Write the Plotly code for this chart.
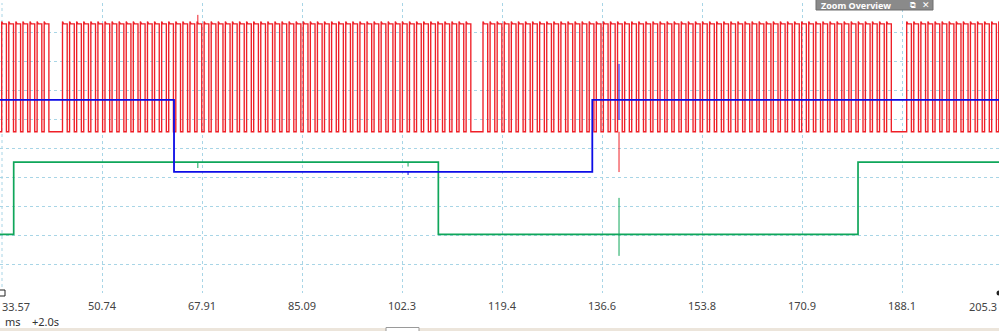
import plotly.graph_objects as go

# ---------------- data (time in ms, levels in screen divisions 0..10) ----------------
tick_values = [33.57, 50.743, 67.916, 85.089, 102.262, 119.435, 136.608, 153.781, 170.954, 188.127, 205.3]
tick_labels = ["33.57", "50.74", "67.91", "85.09", "102.3", "119.4", "136.6", "153.8", "170.9", "188.1", "205.3"]

x_view = [33.227, 204.78]

# red channel: bursts of pulses
red_burst_start_ms = [33.52, 43.96, 116.17, 188.93]
red_burst_pulses = [7, 58, 58, 14]
red_period_ms = 1.216
red_high_ms = 0.807
red_bump_ms = 0.2
red_levels = {"low": 5.56, "high": 9.28, "bump": 9.36}

# blue channel: edges and levels
blue_t = [33.227, 63.11, 134.94, 204.78]
blue_v = [6.66, 4.18, 6.66, 6.66]

# green channel
green_t = [33.227, 35.58, 108.50, 180.57, 204.78]
green_v = [2.02, 4.51, 2.02, 4.51, 4.51]

# spikes / glitches: (time, bottom, top)
red_spikes = [(139.53, 4.17, 5.56), (67.2, 9.28, 9.59)]
blue_spikes = [(139.53, 5.97, 7.90), (103.3, 4.07, 4.18)]
green_spikes = [(139.53, 1.28, 3.28), (67.2, 4.31, 4.51), (103.3, 4.36, 4.51)]

RED = "#ef1f27"
BLUE = "#0c0ce6"
GREEN = "#0fa65a"
GRID = "#a8d5e6"

# ---------------- build red step path ----------------
red_x = [x_view[0]]
red_y = [red_levels["low"]]
for s, n in zip(red_burst_start_ms, red_burst_pulses):
    for k in range(n):
        r = s + k * red_period_ms
        f = r + red_high_ms
        red_x += [r, r, r + red_bump_ms, f, f]
        red_y += [red_levels["low"], red_levels["bump"], red_levels["high"], red_levels["high"], red_levels["low"]]
red_x.append(x_view[1])
red_y.append(red_levels["low"])


def spike_xy(spikes):
    xs, ys = [], []
    for t, b, tp in spikes:
        xs += [t, t, None]
        ys += [b, tp, None]
    return xs, ys


fig = go.Figure()
fig.add_trace(go.Scatter(x=red_x, y=red_y, mode="lines", line=dict(color=RED, width=1.35), hoverinfo="skip"))
sx, sy = spike_xy(red_spikes)
fig.add_trace(go.Scatter(x=sx, y=sy, mode="lines", line=dict(color=RED, width=1), hoverinfo="skip"))

fig.add_trace(go.Scatter(x=green_t, y=green_v, mode="lines", line=dict(color=GREEN, width=1.7, shape="hv"), hoverinfo="skip"))
sx, sy = spike_xy(green_spikes)
fig.add_trace(go.Scatter(x=sx, y=sy, mode="lines", line=dict(color=GREEN, width=1), hoverinfo="skip"))

fig.add_trace(go.Scatter(x=blue_t, y=blue_v, mode="lines", line=dict(color=BLUE, width=1.8, shape="hv"), hoverinfo="skip"))
sx, sy = spike_xy(blue_spikes)
fig.add_trace(go.Scatter(x=sx, y=sy, mode="lines", line=dict(color=BLUE, width=1), hoverinfo="skip"))


def py(p):
    # pixel row -> paper y (plot area spans rows 3..293)
    return (293 - p) / 290.0


def px(p):
    return p / 999.0


shapes = [
    # bottom beige band
    dict(type="rect", xref="paper", yref="paper", x0=0, x1=1, y0=py(336), y1=py(328),
         fillcolor="#ece5db", line=dict(width=0), layer="above"),
    dict(type="rect", xref="paper", yref="paper", x0=px(386), x1=px(419), y0=py(336), y1=py(327.5),
         fillcolor="#ffffff", line=dict(color="#9a9a9a", width=1), layer="above"),
    # marker at the bottom-left
    dict(type="rect", xref="paper", yref="paper", x0=px(-1), x1=px(5), y0=py(296), y1=py(290),
         fillcolor="#ffffff", line=dict(color="#222222", width=1), layer="above"),
    # marker at the bottom-right
    dict(type="circle", xref="paper", yref="paper", x0=px(996.5), x1=px(1001.5), y0=py(295.5), y1=py(290.5),
         fillcolor="#222222", line=dict(color="#222222", width=0), layer="above"),
    # zoom overview title bar
    dict(type="rect", xref="paper", yref="paper", x0=px(816), x1=px(933), y0=py(10), y1=py(-4),
         fillcolor="#8a8a8a", line=dict(color="#6e6e6e", width=1), layer="above"),
]

annotations = [
    dict(text="Zoom Overview", xref="paper", yref="paper", x=px(819), y=py(5), xanchor="left", yanchor="middle",
         showarrow=False, font=dict(family="Noto Sans", size=9, color="#ffffff", weight="bold")),
    dict(text="⧉", xref="paper", yref="paper", x=px(913), y=py(5), xanchor="center", yanchor="middle",
         showarrow=False, font=dict(family="DejaVu Sans", size=8, color="#ffffff")),
    dict(text="✕", xref="paper", yref="paper", x=px(926), y=py(5), xanchor="center", yanchor="middle",
         showarrow=False, font=dict(family="DejaVu Sans", size=9, color="#ffffff")),
    dict(text="ms", xref="paper", yref="paper", x=px(3), y=py(321), xanchor="left", yanchor="middle",
         showarrow=False, font=dict(family="Noto Sans", size=11, color="#333333")),
    dict(text="+2.0s", xref="paper", yref="paper", x=px(30), y=py(321), xanchor="left", yanchor="middle",
         showarrow=False, font=dict(family="Noto Sans", size=11, color="#333333")),
    dict(text=tick_labels[0], xref="paper", yref="paper", x=0, y=py(306), xanchor="left", yanchor="middle",
         showarrow=False, font=dict(family="Noto Sans", size=11, color="#444444")),
    dict(text=tick_labels[-1], xref="paper", yref="paper", x=1, y=py(306), xanchor="right", yanchor="middle",
         showarrow=False, font=dict(family="Noto Sans", size=11, color="#444444")),
]

fig.update_layout(
    width=999, height=331,
    margin=dict(l=0, r=0, t=3, b=38, pad=0),
    paper_bgcolor="#ffffff", plot_bgcolor="#ffffff",
    showlegend=False,
    shapes=shapes, annotations=annotations,
    xaxis=dict(range=x_view, tickvals=tick_values[1:-1], ticktext=tick_labels[1:-1],
               showgrid=True, gridcolor=GRID, griddash="3px,3px", gridwidth=1,
               zeroline=False, showline=False, ticks="outside", ticklen=3, tickcolor="rgba(0,0,0,0)",
               tickfont=dict(family="Noto Sans", size=11, color="#444444"), fixedrange=True),
    yaxis=dict(range=[0, 10], dtick=1, tick0=0, showgrid=True, gridcolor=GRID, griddash="3px,3px", gridwidth=1,
               zeroline=False, showline=False, showticklabels=False, fixedrange=True),
)

# gridline at the first tick (its label is placed as an annotation)
fig.add_vline(x=tick_values[0], line=dict(color=GRID, width=1, dash="3px,3px"), layer="below")

fig.write_html("out.html")
